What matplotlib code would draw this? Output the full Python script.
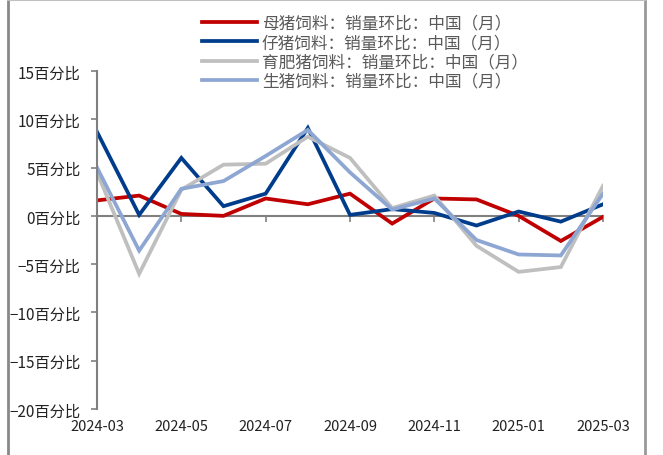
import numpy as np
import matplotlib.pyplot as plt
from matplotlib.lines import Line2D

plt.rcParams['font.family'] = ['Noto Sans CJK SC', 'DejaVu Sans']
plt.rcParams['axes.unicode_minus'] = True

months = ['2024-03', '2024-04', '2024-05', '2024-06', '2024-07', '2024-08', '2024-09',
          '2024-10', '2024-11', '2024-12', '2025-01', '2025-02', '2025-03']
sow = [1.6, 2.1, 0.2, 0.0, 1.8, 1.2, 2.3, -0.8, 1.8, 1.7, 0.0, -2.6, -0.1]
piglet = [8.7, 0.1, 6.0, 1.0, 2.3, 9.1, 0.1, 0.7, 0.3, -1.0, 0.45, -0.6, 1.2]
fattening = [4.5, -6.0, 2.7, 5.3, 5.4, 8.2, 6.0, 0.8, 2.1, -3.1, -5.8, -5.3, 3.1]
hog = [5.0, -3.6, 2.8, 3.6, 6.2, 8.9, 4.5, 0.65, 1.8, -2.5, -4.0, -4.1, 2.3]

names = ['母猪饲料：销量环比：中国（月）', '仔猪饲料：销量环比：中国（月）',
         '育肥猪饲料：销量环比：中国（月）', '生猪饲料：销量环比：中国（月）']
colors = ['#C00000', '#003C8C', '#BFBFBF', '#8EA6D2']

fig = plt.figure(figsize=(6.63, 4.56), dpi=100)
ax = fig.add_axes([97 / 663, 1 - 410 / 456, 506 / 663, 338 / 456])

x = np.arange(len(months))
for s, name, c in zip([sow, piglet, fattening, hog], names, colors):
    ax.plot(x, s, color=c, lw=2.7, label=name, solid_joinstyle='miter')

ax.set_xlim(0, len(months) - 1)
ax.set_ylim(-20, 15)
yt = np.arange(-20, 16, 5)
ax.set_yticks(yt)
ax.set_yticklabels([f'{v}百分比'.replace('-', '−') for v in yt], fontsize=11, color='#222222')
ax.tick_params(axis='y', direction='out', length=4, color='#808080', width=1.2, pad=8)

# x axis line at zero with ticks, labels at the bottom
for side in ['top', 'right']:
    ax.spines[side].set_visible(False)
ax.spines['left'].set_color('#808080')
ax.spines['left'].set_linewidth(1.5)
ax.spines['bottom'].set_position(('data', 0))
ax.spines['bottom'].set_color('#808080')
ax.spines['bottom'].set_linewidth(1.5)
ax.spines['bottom'].set_zorder(0)
ax.set_xticks(x[::2])
ax.tick_params(axis='x', direction='out', length=4, color='#808080', width=1.2, labelbottom=False)

sec = ax.secondary_xaxis(location=0.0)
sec.set_xticks(x[::2])
sec.set_xticklabels(months[::2], fontsize=10.5, color='#222222')
sec.tick_params(length=0, pad=7)
sec.spines['bottom'].set_visible(False)

leg = fig.legend(loc='upper left', bbox_to_anchor=(195 / 663, 1 - 9 / 456), frameon=False,
                 fontsize=12, handlelength=3.3, handletextpad=0.3, labelspacing=0.14,
                 borderaxespad=0)
for t in leg.get_texts():
    t.set_color('#595959')

# outer frame
fig.add_artist(Line2D([8 / 663, 8 / 663], [0, 1], color='#888888', lw=2))
fig.add_artist(Line2D([645 / 663, 645 / 663], [0, 1], color='#999999', lw=2))
fig.add_artist(Line2D([8 / 663, 645 / 663], [0.998, 0.998], color='#C0C0C0', lw=1.5))

fig.savefig('out.png', dpi=100)
